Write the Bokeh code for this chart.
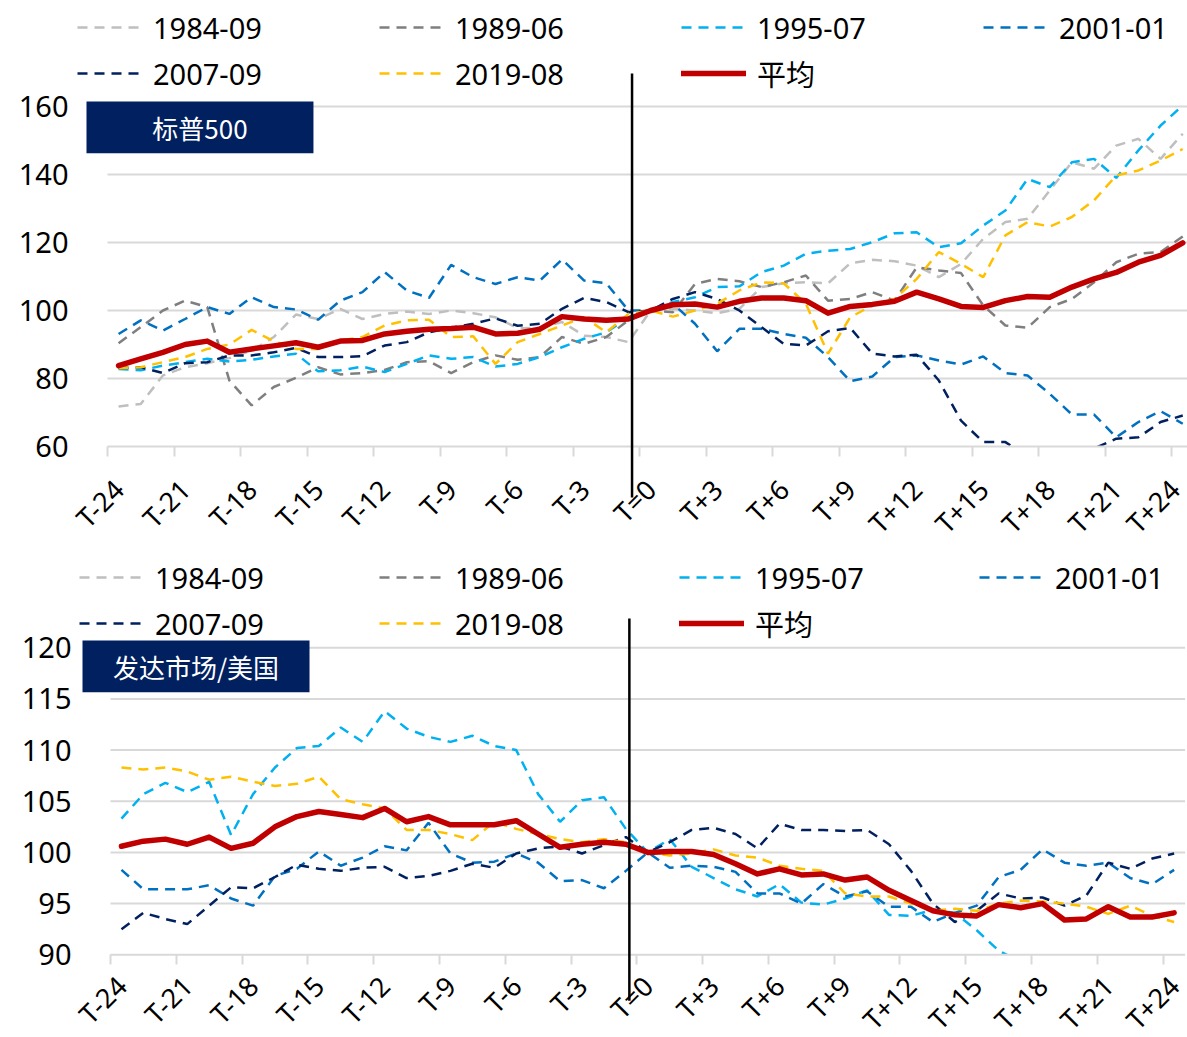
import math
from bokeh.plotting import figure
from bokeh.models import FixedTicker, Legend, LegendItem, Range1d
from bokeh.layouts import column
from bokeh.embed import file_html
from bokeh.resources import INLINE
from bokeh.core.properties import value

# ---------------- data ----------------
months = list(range(-24, 25))
tick_months = list(range(-24, 25, 3))
tick_labels = ["T-24", "T-21", "T-18", "T-15", "T-12", "T-9", "T-6", "T-3", "T=0",
               "T+3", "T+6", "T+9", "T+12", "T+15", "T+18", "T+21", "T+24"]
series_names = ["1984-09", "1989-06", "1995-07", "2001-01", "2007-09", "2019-08"]
avg_name = "平均"
panel_titles = ["标普500", "发达市场/美国"]

# 标普500
spx_1984 = [71.8, 72.5, 80.9, 83.3, 84.5, 86.0, 88.2, 92.2, 98.8, 97.5, 100.5, 97.5, 99.0,
            99.7, 99.0, 100.0, 99.2, 98.0, 94.8, 94.9, 96.6, 92.6, 92.2, 90.7, 100.0,
            100.5, 100.0, 99.2, 100.5, 106.9, 108.0, 108.3, 108.0, 113.9, 114.9, 114.5,
            113.2, 109.8, 113.7, 121.1, 126.0, 127.0, 135.3, 143.6, 141.7, 148.5, 150.5,
            144.6, 152.0]
spx_1989 = [90.4, 95.1, 100.0, 102.9, 101.0, 79.4, 72.1, 77.5, 80.2, 83.3, 81.2, 81.6, 82.5,
            84.8, 85.1, 81.6, 84.8, 86.8, 85.5, 86.3, 92.2, 90.2, 92.2, 97.1, 100.0,
            99.5, 107.8, 109.3, 108.6, 106.9, 108.3, 110.3, 102.9, 103.4, 105.4, 102.9,
            112.7, 111.8, 111.0, 101.5, 95.6, 94.9, 101.0, 103.4, 108.3, 114.2, 116.7,
            117.2, 121.8]
spx_1995 = [82.8, 82.4, 83.8, 84.8, 85.8, 85.0, 85.5, 86.5, 87.3, 82.1, 82.4, 83.5, 81.9,
            84.3, 86.8, 85.8, 86.3, 83.5, 84.3, 86.3, 89.2, 91.7, 93.6, 98.0, 100.0,
            102.5, 103.9, 106.9, 107.1, 111.3, 113.2, 116.7, 117.6, 118.1, 120.1, 122.7,
            123.0, 118.6, 119.8, 125.0, 129.4, 138.7, 136.3, 143.6, 144.6, 139.0, 147.1,
            154.4, 160.3]
spx_2001 = [93.1, 97.1, 94.1, 97.5, 101.0, 99.0, 103.9, 101.0, 100.3, 97.3, 102.9, 105.4, 111.3,
            105.9, 103.7, 113.4, 109.8, 107.8, 109.8, 108.8, 115.0, 108.8, 108.0, 100.0, 100.0,
            102.0, 96.1, 88.0, 94.6, 94.6, 93.1, 92.0, 86.3, 79.2, 80.6, 86.3,
            86.8, 85.3, 84.1, 86.5, 81.6, 80.9, 75.5, 69.4, 69.4, 62.7, 67.2,
            70.4, 66.7]
spx_2007 = [83.1, 83.3, 81.6, 84.5, 84.8, 86.8, 86.8, 87.7, 89.0, 86.3, 86.3, 86.6, 89.7,
            90.7, 93.6, 94.9, 96.1, 97.7, 95.5, 96.1, 100.5, 103.7, 102.5, 99.5, 100.0,
            103.4, 105.4, 103.4, 100.0, 95.1, 90.2, 89.7, 93.9, 94.9, 87.3, 86.5,
            87.0, 79.4, 67.6, 61.3, 61.3, 57.1, 50.6, 53.9, 59.4, 62.3, 62.7,
            67.2, 69.1]
spx_2019 = [83.0, 83.3, 84.8, 86.3, 88.7, 90.0, 94.3, 91.0, 88.7, 88.7, 91.2, 92.2, 95.6,
            97.1, 97.3, 92.2, 92.4, 84.3, 90.7, 93.1, 95.6, 98.0, 93.6, 99.0, 100.0,
            98.2, 100.0, 102.0, 105.9, 108.3, 108.0, 102.0, 87.3, 98.0, 101.5, 103.4,
            109.3, 117.2, 113.7, 109.8, 122.1, 126.0, 124.7, 127.5, 132.4, 139.7, 141.2,
            144.1, 147.5]
spx_avg = [83.8, 85.8, 87.7, 90.0, 91.0, 87.7, 88.7, 89.6, 90.5, 89.2, 91.0, 91.2, 93.1,
           93.9, 94.5, 94.7, 95.1, 93.1, 93.3, 94.5, 98.2, 97.5, 97.1, 97.5, 100.0,
           101.7, 101.9, 101.0, 102.7, 103.7, 103.7, 102.9, 99.2, 101.2, 101.8, 102.7,
           105.4, 103.4, 101.2, 100.9, 102.9, 104.1, 103.9, 106.9, 109.3, 111.2, 114.2,
           116.2, 119.9]

# 发达市场/美国 (no data for 1984-09 and 1989-06)
dm_1984 = [float("nan")] * len(months)
dm_1989 = [float("nan")] * len(months)
dm_1995 = [103.3, 105.7, 106.8, 105.9, 106.9, 101.7, 105.7, 108.3, 110.2, 110.4, 112.2, 110.8, 113.8,
           112.1, 111.3, 110.8, 111.4, 110.4, 110.0, 105.7, 103.0, 105.1, 105.4, 102.3, 100.0,
           101.3, 98.6, 97.5, 96.4, 95.7, 96.9, 95.1, 94.9, 95.5, 96.3, 93.9,
           93.8, 94.4, 94.1, 92.4, 90.4, 89.3, 88.9, 84.8, 84.8, 86.8, 84.1,
           84.7, 85.0]
dm_2001 = [98.3, 96.4, 96.4, 96.4, 96.8, 95.5, 94.8, 97.7, 98.4, 100.1, 98.7, 99.5, 100.6,
           100.2, 102.9, 99.9, 99.0, 99.1, 99.9, 99.0, 97.2, 97.3, 96.5, 98.2, 100.0,
           98.5, 98.7, 98.6, 98.1, 96.0, 96.0, 95.0, 96.9, 95.7, 96.2, 94.7,
           94.7, 93.2, 94.1, 94.8, 97.6, 98.3, 100.3, 99.0, 98.7, 99.0, 97.5,
           96.9, 98.3]
dm_2007 = [92.5, 94.1, 93.5, 93.0, 94.8, 96.6, 96.5, 97.6, 98.8, 98.4, 98.2, 98.5, 98.6,
           97.5, 97.7, 98.2, 98.9, 98.5, 99.9, 100.4, 100.6, 99.9, 100.7, 101.5, 100.0,
           101.0, 102.2, 102.4, 101.8, 100.4, 102.8, 102.2, 102.2, 102.1, 102.2, 100.8,
           98.2, 95.0, 93.2, 94.3, 96.0, 95.5, 95.6, 94.8, 95.8, 99.0, 98.4,
           99.4, 99.9]
dm_2019 = [108.3, 108.1, 108.3, 107.9, 107.1, 107.4, 106.9, 106.5, 106.7, 107.4, 105.2, 104.7, 104.3,
           102.2, 102.2, 101.8, 101.2, 103.0, 102.3, 101.8, 101.3, 101.0, 101.3, 101.0, 100.0,
           99.7, 99.9, 100.3, 99.7, 99.5, 98.7, 98.4, 98.2, 96.0, 95.7, 95.7,
           95.0, 94.3, 94.5, 94.3, 95.0, 95.3, 95.2, 95.0, 94.7, 94.0, 94.8,
           93.8, 93.2]
dm_avg = [100.6, 101.1, 101.3, 100.8, 101.5, 100.4, 100.9, 102.5, 103.5, 104.0, 103.7, 103.4, 104.3,
          103.0, 103.5, 102.7, 102.7, 102.7, 103.1, 101.8, 100.5, 100.8, 101.0, 100.8, 100.0,
          100.1, 100.1, 99.8, 98.9, 97.9, 98.4, 97.8, 97.9, 97.3, 97.6, 96.3,
          95.3, 94.3, 93.9, 93.8, 94.9, 94.6, 95.0, 93.4, 93.5, 94.7, 93.7,
          93.7, 94.1]

spx_yticks = [60, 80, 100, 120, 140, 160]
dm_yticks = [90, 95, 100, 105, 110, 115, 120]

# ---------------- style ----------------
colors = ["#BFBFBF", "#7F7F7F", "#00B0F0", "#0070C0", "#002060", "#FFC000"]
avg_color = "#C00000"
box_color = "#002060"
grid_color = "#D9D9D9"
LATIN = "Noto Sans"
MIXED = "Noto Sans, Noto Sans CJK SC"
CJK = "Noto Sans CJK SC"
event_x = -0.84  # black vertical marker line (a drawn shape, slightly left of T=0)

W = 1187


def make_panel(series, avg, yticks, x0, x1, y0, y1, height, xlab_standoff,
               legend_loc, legend_label_width, title, box, marker):
    p = figure(width=W, height=height, output_backend="svg", toolbar_location=None,
               x_range=Range1d(x0, x1), y_range=Range1d(y0, y1),
               min_border_left=0, min_border_right=0, min_border_top=0,
               min_border_bottom=0)
    p.outline_line_color = None
    p.background_fill_color = "white"
    p.border_fill_color = "white"
    p.xgrid.visible = False
    p.ygrid.visible = False

    base = yticks[0]
    left_edge = months[0] - 0.5
    right_edge = months[-1] + 0.5
    upper = yticks[1:]
    # horizontal gridlines
    p.segment(x0=[left_edge] * len(upper), y0=upper, x1=[right_edge] * len(upper),
              y1=upper, line_color=grid_color, line_width=2)

    yax = p.yaxis[0]
    yax.fixed_location = left_edge
    yax.ticker = FixedTicker(ticks=yticks)
    yax.axis_line_color = None
    yax.major_tick_line_color = None
    yax.minor_tick_line_color = None
    yax.major_tick_out = 0
    yax.major_tick_in = 0
    yax.major_label_standoff = 39
    yax.major_label_text_font = LATIN
    yax.major_label_text_font_size = "29px"
    yax.major_label_text_color = "black"

    xax = p.xaxis[0]
    xax.fixed_location = base
    xax.ticker = FixedTicker(ticks=tick_months, minor_ticks=[m - 0.5 for m in tick_months])
    xax.major_label_overrides = dict(zip(tick_months, tick_labels))
    xax.major_label_orientation = math.pi / 4
    xax.major_tick_line_color = None
    xax.major_tick_out = 0
    xax.major_tick_in = 0
    xax.minor_tick_line_color = grid_color
    xax.minor_tick_line_width = 2
    xax.minor_tick_out = 10
    xax.minor_tick_in = 0
    xax.axis_line_color = None
    xax.major_label_standoff = xlab_standoff
    xax.major_label_text_font = LATIN
    xax.major_label_text_font_size = "27px"
    xax.major_label_text_color = "black"

    items = []
    for name, vals, col in zip(series_names, series, colors):
        r = p.line(months, vals, line_color=col, line_width=2.5, line_dash="10 7")
        items.append(LegendItem(label=name, renderers=[r]))
    ra = p.line(months, avg, line_color=avg_color, line_width=5.5,
                line_join="round", line_cap="round")
    items.append(LegendItem(label=avg_name, renderers=[ra]))

    # values below the axis minimum are hidden, as in the original chart
    p.quad(left=[x0], right=[x1], bottom=[y0], top=[base], fill_color="white",
           line_color=None)
    # horizontal axis line
    p.segment(x0=[left_edge], y0=[base], x1=[right_edge], y1=[base],
              line_color=grid_color, line_width=2)

    # vertical marker line
    p.segment(x0=[event_x], y0=[marker[0]], x1=[event_x], y1=[marker[1]],
              line_color="black", line_width=2.5)

    # title box
    bl, br, bb, bt = box
    p.quad(left=[bl], right=[br], bottom=[bb], top=[bt], fill_color=box_color,
           line_color=None)
    p.text(x=[(bl + br) / 2], y=[(bb + bt) / 2], text=[title], text_align="center",
           text_baseline="middle", text_color="white", text_font=value(CJK),
           text_font_size="26px")

    leg = Legend(items=items, location=legend_loc, orientation="horizontal", ncols=4,
                 glyph_width=65, glyph_height=46, label_height=46,
                 label_width=legend_label_width, label_standoff=11, spacing=0,
                 padding=0, margin=0, border_line_color=None,
                 background_fill_alpha=0, label_text_font=MIXED,
                 label_text_font_size="29px", label_text_color="black")
    p.add_layout(leg)
    return p


p1 = make_panel([spx_1984, spx_1989, spx_1995, spx_2001, spx_2007, spx_2019], spx_avg,
                spx_yticks, -29.326, 24.214, 30.59, 191.18, 546, 28,
                (77, 450), 226, panel_titles[0],
                (-25.447, -15.21, 146.26, 161.47), (45.0, 169.7))
p2 = make_panel([dm_1984, dm_1989, dm_1995, dm_2001, dm_2007, dm_2019], dm_avg,
                dm_yticks, -29.516, 24.61, 81.92, 129.89, 491, 16,
                (79, 391), 224, panel_titles[1],
                (-25.777, -15.425, 115.66, 120.71), (85.5, 122.86))

layout = column(p1, p2, spacing=0)
open("out.html", "w").write(file_html(layout, INLINE))
